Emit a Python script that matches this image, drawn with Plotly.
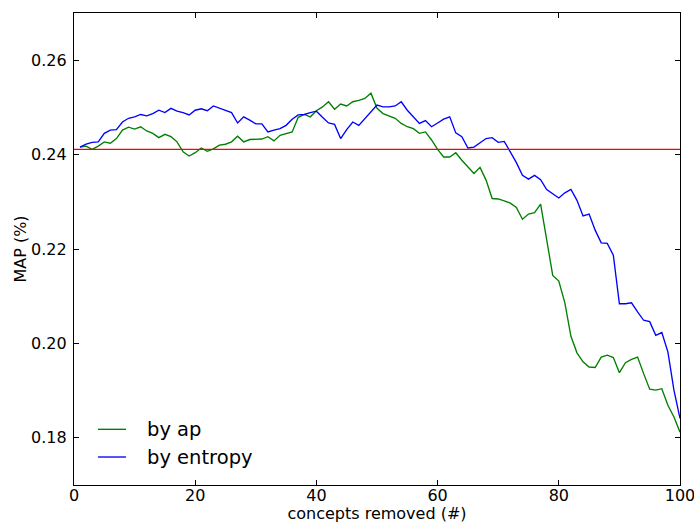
import plotly.graph_objects as go

concepts_removed = list(range(1, 101))

by_ap = [
    0.2416, 0.2418, 0.2411, 0.2418, 0.2427, 0.2424, 0.2434, 0.2452, 0.2458, 0.2454,
    0.2459, 0.2450, 0.2445, 0.2436, 0.2443, 0.2438, 0.2427, 0.2406, 0.2397, 0.2404,
    0.2414, 0.2407, 0.2412, 0.2420, 0.2422, 0.2427, 0.2439, 0.2427, 0.2432, 0.2432,
    0.2433, 0.2438, 0.2429, 0.2441, 0.2445, 0.2448, 0.2479, 0.2485, 0.2480, 0.2493,
    0.2501, 0.2512, 0.2496, 0.2507, 0.2503, 0.2512, 0.2515, 0.2519, 0.2530, 0.2498,
    0.2487, 0.2482, 0.2477, 0.2466, 0.2459, 0.2455, 0.2445, 0.2448, 0.2431, 0.2411,
    0.2395, 0.2395, 0.2404, 0.2388, 0.2374, 0.2360, 0.2373, 0.2346, 0.2307, 0.2306,
    0.2302, 0.2297, 0.2288, 0.2263, 0.2274, 0.2277, 0.2295, 0.2219, 0.2144, 0.2132,
    0.2086, 0.2015, 0.1980, 0.1961, 0.1950, 0.1949, 0.1971, 0.1975, 0.1970, 0.1938,
    0.1959, 0.1966, 0.1971, 0.1936, 0.1903, 0.1901, 0.1904, 0.1869, 0.1844, 0.1812,
]

by_entropy = [
    0.2416, 0.2422, 0.2426, 0.2427, 0.2445, 0.2452, 0.2453, 0.2469, 0.2477, 0.2480,
    0.2485, 0.2482, 0.2487, 0.2494, 0.2489, 0.2498, 0.2492, 0.2489, 0.2484, 0.2494,
    0.2497, 0.2493, 0.2503, 0.2498, 0.2493, 0.2489, 0.2467, 0.2480, 0.2473, 0.2465,
    0.2465, 0.2448, 0.2452, 0.2455, 0.2462, 0.2475, 0.2484, 0.2485, 0.2489, 0.2492,
    0.2479, 0.2467, 0.2464, 0.2434, 0.2453, 0.2469, 0.2462, 0.2477, 0.2490, 0.2505,
    0.2501, 0.2501, 0.2503, 0.2512, 0.2494, 0.2480, 0.2466, 0.2472, 0.2459, 0.2467,
    0.2475, 0.2480, 0.2446, 0.2438, 0.2414, 0.2416, 0.2425, 0.2434, 0.2436, 0.2426,
    0.2428, 0.2407, 0.2383, 0.2356, 0.2348, 0.2356, 0.2347, 0.2326, 0.2316, 0.2308,
    0.2319, 0.2326, 0.2303, 0.2270, 0.2274, 0.2240, 0.2213, 0.2212, 0.2187, 0.2084,
    0.2084, 0.2086, 0.2067, 0.2049, 0.2046, 0.2017, 0.2023, 0.1982, 0.1901, 0.1841,
]

baseline_map = 0.2411

series_names = ["by ap", "by entropy"]
series_colors = ["#008000", "#0000ff"]

x_ticks = [0, 20, 40, 60, 80, 100]
x_tick_labels = ["0", "20", "40", "60", "80", "100"]
y_ticks = [0.18, 0.20, 0.22, 0.24, 0.26]
y_tick_labels = ["0.18", "0.20", "0.22", "0.24", "0.26"]

FONT = "DejaVu Sans, Arial, sans-serif"
LW = 1.35

fig = go.Figure()
for name, ys, col in zip(series_names, [by_ap, by_entropy], series_colors):
    fig.add_trace(go.Scatter(x=concepts_removed, y=ys, mode="lines", name=name,
                             line=dict(color=col, width=LW), showlegend=False,
                             hoverinfo="skip"))
fig.add_hline(y=baseline_map, line=dict(color="#ff0000", width=LW))

axis_common = dict(
    showline=True, linecolor="black", linewidth=1.3, mirror="ticks",
    ticks="inside", ticklen=5, tickcolor="black", tickwidth=1,
    showgrid=False, zeroline=False, automargin=False,
    ticklabeloverflow="allow",
    tickfont=dict(family=FONT, size=16, color="black"),
)

fig.update_xaxes(range=[0, 100], tickvals=x_ticks, ticktext=x_tick_labels,
                 ticklabelstandoff=-4,
                 title=dict(text="concepts removed (#)", font=dict(family=FONT, size=16, color="black"), standoff=0),
                 **axis_common)
fig.update_yaxes(range=[0.17, 0.27], tickvals=y_ticks, ticktext=y_tick_labels,
                 ticklabelstandoff=3,
                 title=dict(text="MAP (%)", font=dict(family=FONT, size=16, color="black"), standoff=0),
                 **axis_common)

# manual legend (no frame), lower-left like the original
legend_y = [0.118, 0.0593]
for name, col, ly in zip(series_names, series_colors, legend_y):
    fig.add_shape(type="line", xref="paper", yref="paper",
                  x0=0.0396, x1=0.0858, y0=ly, y1=ly,
                  line=dict(color=col, width=LW))
    fig.add_annotation(xref="paper", yref="paper", x=0.1172, y=ly,
                       xanchor="left", yanchor="middle", showarrow=False,
                       text=name, font=dict(family=FONT, size=19.5, color="black"))

fig.update_layout(
    width=694, height=523,
    margin=dict(l=74, r=14, t=13, b=38),
    paper_bgcolor="white", plot_bgcolor="white",
    font=dict(family=FONT, color="black"),
    showlegend=False,
    hovermode=False,
)

fig.write_html("out.html", config={"displayModeBar": False},
               post_script="document.body.style.margin='0';document.body.style.overflow='hidden';")
